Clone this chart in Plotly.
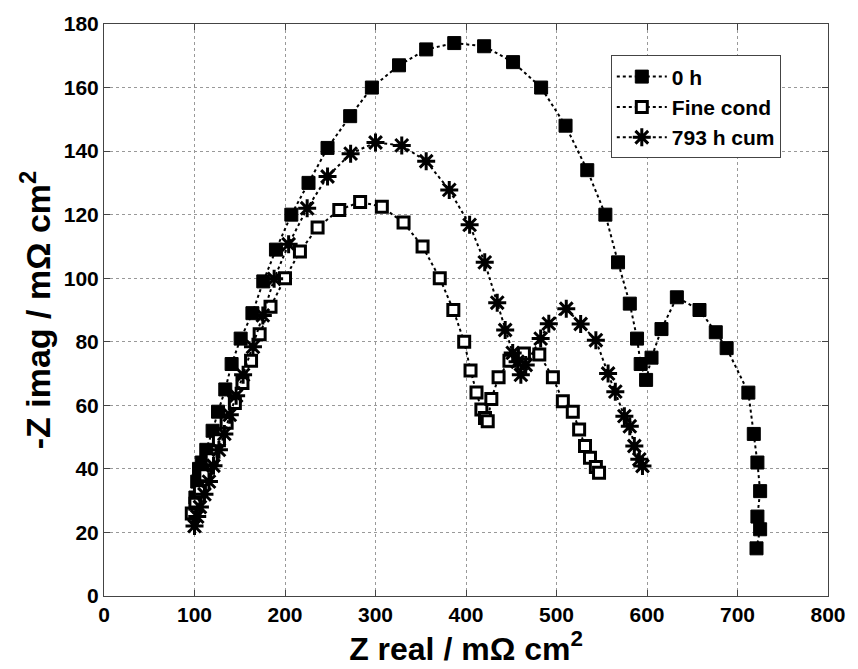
import plotly.graph_objects as go

# 0 h (filled squares)
zero_h_x = [101, 103, 105, 108, 113, 120, 126, 134, 141, 151, 164, 176, 190, 207, 226, 247, 272, 296, 326, 356,
            387, 420, 452, 483, 510, 534, 554, 568, 581, 589, 593, 599, 605, 616, 633, 658, 676, 688, 712, 718,
            722, 725, 722, 725, 721]
zero_h_y = [31, 36, 40, 42, 46, 52, 58, 65, 73, 81, 89, 99, 109, 120, 130, 141, 151, 160, 167, 172,
            174, 173, 168, 160, 148, 134, 120, 105, 92, 81, 73, 68, 75, 84, 94, 90, 83, 78, 64, 51,
            42, 33, 25, 21, 15]

# Fine cond (open squares)
fine_x = [97, 101, 106, 112, 119, 127, 135.5, 144.6, 153, 162.5, 172, 184, 200, 216.5, 236, 260, 283, 307, 331, 352,
          371, 386, 398, 405, 411.6, 417, 421, 424, 428, 436, 448, 464, 481, 496, 507, 518, 525, 531.5, 537, 543.5, 547]
fine_y = [26, 29, 33, 38, 43, 49, 54.5, 60.7, 67, 74, 82.4, 91, 100, 108.4, 116, 121.5, 124, 122.5, 117.5, 110,
          100, 90, 80, 71, 64, 58.7, 56, 55, 62, 68.8, 74, 76.3, 76, 68.8, 61.3, 58, 52.4, 47.2, 43.5, 40.6, 38.8]

# 793 h cum (asterisks)
cum_x = [100, 103, 106, 111, 116, 121, 127, 133, 139, 146, 153.7, 164.6, 175.5, 188, 204, 224.5, 247, 272.5, 300, 329,
         356, 381.5, 404, 420.7, 434.5, 443.3, 451.6, 457, 460.6, 466, 482.5, 491.5, 510.8, 526.7, 543.5, 557, 565,
         575, 581, 586, 591.5, 595]
cum_y = [22, 25, 28, 32, 36, 41, 46, 51, 57, 63, 69.6, 78.4, 88.3, 99.8, 110.7, 122, 132, 139.2, 142.7, 141.8,
         136.8, 127.8, 116.8, 105, 92.3, 83.7, 76.5, 73.7, 69.6, 72.7, 81, 85.7, 90.4, 85.6, 80.5, 70, 64.3,
         56.6, 53.4, 47.2, 43, 40.9]

series_names = ["0 h", "Fine cond", "793 h cum"]

FONT = "Liberation Sans, Arial, Helvetica, sans-serif"
line_style = dict(color="black", width=2, dash="dot")

fig = go.Figure()
fig.add_trace(go.Scatter(
    x=zero_h_x, y=zero_h_y, name=series_names[0], mode="lines+markers",
    line=line_style,
    marker=dict(symbol="square", size=13, color="black", line=dict(color="black", width=1)),
))
fig.add_trace(go.Scatter(
    x=fine_x, y=fine_y, name=series_names[1], mode="lines+markers",
    line=line_style,
    marker=dict(symbol="square", size=11, color="white", line=dict(color="black", width=3)),
))
fig.add_trace(go.Scatter(
    x=cum_x, y=cum_y, name=series_names[2], mode="lines+markers",
    line=line_style,
    marker=dict(symbol="asterisk-open", size=15, color="black", line=dict(color="black", width=3)),
))

axis_common = dict(
    showline=True, linecolor="#444", linewidth=1, mirror="ticks",
    ticks="inside", ticklen=6, tickcolor="#444",
    showgrid=True, gridcolor="#999", griddash="dot", gridwidth=1,
    zeroline=False,
    tickfont=dict(family=FONT, size=21, color="black", weight="bold"),
)

fig.update_layout(
    width=858, height=669,
    margin=dict(l=104, r=20, t=20, b=73),
    paper_bgcolor="white", plot_bgcolor="white",
    font=dict(family=FONT, color="black"),
    xaxis=dict(range=[0, 800], dtick=100, tick0=0,
               title=dict(text="Z real / mΩ cm<sup>2</sup>", standoff=0,
                          font=dict(family=FONT, size=32, color="black", weight="bold")),
               **axis_common),
    yaxis=dict(range=[0, 180], dtick=20, tick0=0,
               title=dict(text="-Z imag / mΩ cm<sup>2</sup>", standoff=2,
                          font=dict(family=FONT, size=34, color="black", weight="bold")),
               **axis_common),
    legend=dict(x=0.70, y=0.945, xanchor="left", yanchor="top",
                bgcolor="white", bordercolor="#444", borderwidth=1,
                font=dict(family=FONT, size=21, color="black", weight="bold"),
                itemwidth=50),
    showlegend=True,
)

fig.write_html("out.html")
